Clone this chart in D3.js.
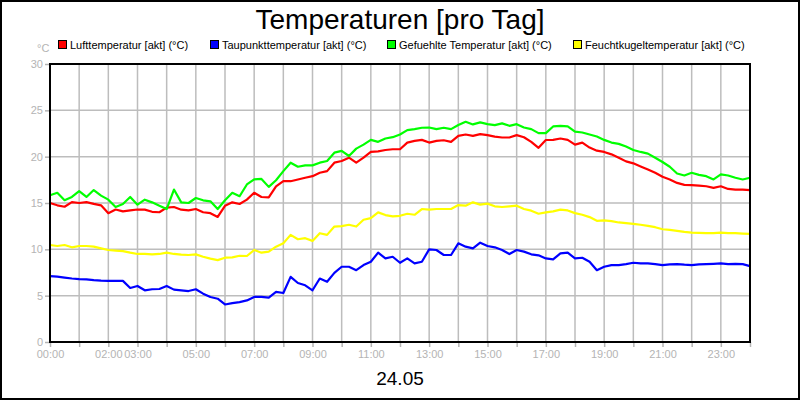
<!DOCTYPE html>
<html><head><meta charset="utf-8">
<script src="https://cdn.jsdelivr.net/npm/d3@7"></script>
<style>body{margin:0;background:#fff;} svg{display:block;font-family:"Liberation Sans",Arial,sans-serif;}</style>
</head><body>
<script>
const title = "Temperaturen [pro Tag]";
const dateLabel = "24.05";
const unitLabel = "°C";
const seriesNames = ["Lufttemperatur [akt] (°C)","Taupunkttemperatur [akt] (°C)","Gefuehlte Temperatur [akt] (°C)","Feuchtkugeltemperatur [akt] (°C)"];
const seriesColors = ["#ff0000","#0000ff","#00ff00","#ffff00"];
const yTicks = [0,5,10,15,20,25,30];
const xLabelHours = {0:"00:00",2:"02:00",3:"03:00",5:"05:00",7:"07:00",9:"09:00",11:"11:00",13:"13:00",15:"15:00",17:"17:00",19:"19:00",21:"21:00",23:"23:00"};
// samples every 15 minutes from 00:00 to 24:00
const luft = [
15.0,14.75,14.6,15.1,15.0,15.1,14.9,14.75,13.9,14.3,14.1,14.2,14.3,14.28,14.05,14.0,14.5,14.57,14.28,14.2,14.35,14.0,13.9,13.5,14.7,
15.07,14.89,15.36,16.1,15.65,15.6,16.8,17.35,17.35,17.54,17.72,17.9,18.26,18.44,19.35,19.53,19.89,19.35,19.89,20.51,20.58,20.72,20.8,20.8,
21.52,21.7,21.81,21.52,21.7,21.77,21.6,22.25,22.39,22.25,22.43,22.32,22.17,22.07,22.07,22.32,22.1,21.6,20.95,21.8,21.81,21.96,21.81,21.3,
21.52,20.98,20.65,20.51,20.25,19.89,19.49,19.28,18.95,18.62,18.26,17.83,17.54,17.17,16.96,16.92,16.88,16.81,16.63,16.81,16.52,16.45,16.45,16.38];
const taupunkt = [
7.1,7.05,6.95,6.85,6.78,6.75,6.67,6.62,6.6,6.6,6.6,5.83,6.05,5.58,5.69,5.72,6.05,5.65,5.58,5.5,5.69,5.22,4.86,4.67,4.05,
4.2,4.31,4.49,4.86,4.86,4.78,5.4,5.29,7.03,6.37,6.12,5.58,6.85,6.5,7.46,8.12,8.12,7.75,8.3,8.66,9.64,9.02,9.2,8.55,
9.02,8.48,8.66,10.0,9.93,9.39,9.39,10.65,10.29,10.11,10.72,10.36,10.22,9.93,9.49,9.93,9.75,9.46,9.35,9.02,8.91,9.57,9.64,9.02,
9.09,8.66,7.75,8.12,8.3,8.3,8.41,8.55,8.48,8.48,8.41,8.3,8.37,8.41,8.34,8.3,8.37,8.41,8.44,8.48,8.41,8.44,8.41,8.19];
const gefuehlt = [
15.83,16.1,15.3,15.65,16.27,15.65,16.4,15.8,15.36,14.57,14.9,15.65,14.82,15.36,15.07,14.71,14.35,16.45,15.07,15.0,15.54,15.29,15.18,14.35,15.3,
16.1,15.73,17.0,17.54,17.6,16.74,17.46,18.44,19.35,18.91,19.06,19.06,19.35,19.53,20.43,20.62,20.07,20.87,21.3,21.81,21.6,21.96,22.1,22.39,
22.86,22.97,23.12,23.15,22.97,23.12,22.97,23.41,23.77,23.48,23.7,23.51,23.41,23.59,23.33,23.51,23.15,22.97,22.54,22.54,23.26,23.33,23.26,22.7,
22.61,22.39,22.17,21.81,21.52,21.38,21.09,20.72,20.51,20.33,19.89,19.42,18.91,18.19,17.97,18.26,18.04,17.9,17.54,18.08,17.97,17.72,17.54,17.72];
const feuchtkugel = [
10.47,10.36,10.47,10.22,10.36,10.36,10.29,10.11,9.93,9.86,9.8,9.64,9.5,9.5,9.46,9.5,9.64,9.5,9.42,9.39,9.46,9.2,9.0,8.84,9.1,
9.13,9.31,9.28,9.93,9.64,9.75,10.29,10.65,11.56,11.09,11.2,10.91,11.74,11.56,12.46,12.5,12.65,12.46,13.19,13.37,13.99,13.7,13.55,13.62,
13.84,13.73,14.35,14.28,14.35,14.35,14.35,14.78,14.71,15.07,14.82,14.93,14.64,14.57,14.64,14.71,14.35,14.17,13.84,13.99,14.09,14.28,14.2,13.91,
13.73,13.48,13.08,13.12,13.05,12.9,12.83,12.75,12.65,12.54,12.39,12.17,12.1,12.0,11.88,11.81,11.78,11.74,11.74,11.81,11.74,11.74,11.7,11.67];
const seriesData = [luft, taupunkt, gefuehlt, feuchtkugel];

const W = 800, H = 400;
const m = {left:50, right:50, top:64, bottom:58};
const svg = d3.select("body").append("svg").attr("width",W).attr("height",H);
svg.append("rect").attr("x",0).attr("y",0).attr("width",W).attr("height",H).attr("fill","#fff");

const x = d3.scaleLinear().domain([0,24]).range([m.left, W-m.right]);
const y = d3.scaleLinear().domain([0,30]).range([H-m.bottom, m.top]);
const gridColor = "#bdbdbd";
const labelColor = "#b4b4b4";

// grid
svg.append("g").selectAll("line").data(d3.range(1,24)).join("line")
  .attr("x1",d=>x(d)).attr("x2",d=>x(d)).attr("y1",y(0)).attr("y2",y(30))
  .attr("stroke",gridColor).attr("stroke-width",1.5);
svg.append("g").selectAll("line").data(yTicks.slice(1,-1)).join("line")
  .attr("x1",x(0)).attr("x2",x(24)).attr("y1",d=>y(d)).attr("y2",d=>y(d))
  .attr("stroke",gridColor).attr("stroke-width",1.5);

// axes
const xAxis = d3.axisBottom(x).tickValues(d3.range(0,25)).tickSize(5).tickPadding(3)
  .tickFormat(d=>xLabelHours[d]||"");
const gx = svg.append("g").attr("transform",`translate(0,${y(0)})`).call(xAxis);
const yAxis = d3.axisLeft(y).tickValues(yTicks).tickSize(5).tickPadding(2).tickFormat(d3.format("d"));
const gy = svg.append("g").attr("transform",`translate(${x(0)},0)`).call(yAxis);
[gx,gy].forEach(g=>{
  g.select(".domain").remove();
  g.selectAll(".tick line").attr("stroke",labelColor).attr("stroke-width",1.5);
  g.selectAll(".tick text").attr("fill",labelColor).attr("font-size",11).attr("font-family","Liberation Sans, Arial, sans-serif");
});

// lines
const line = d3.line().x((d,i)=>x(i/4)).y(d=>y(d));
seriesData.forEach((s,k)=>{
  svg.append("path").datum(s).attr("d",line).attr("fill","none")
    .attr("stroke",seriesColors[k]).attr("stroke-width",2.2).attr("stroke-linejoin","round");
});

// frame
svg.append("rect").attr("x",x(0)).attr("y",y(30)).attr("width",x(24)-x(0)).attr("height",y(0)-y(30))
  .attr("fill","none").attr("stroke","#000").attr("stroke-width",2);

// title
svg.append("text").attr("x",W/2).attr("y",29).attr("text-anchor","middle")
  .attr("font-size",28).attr("fill","#000").text(title);
svg.append("text").attr("x",W/2).attr("y",385).attr("text-anchor","middle")
  .attr("font-size",19).attr("fill","#000").text(dateLabel);
svg.append("text").attr("x",37).attr("y",52).attr("font-size",11).attr("fill",labelColor).text(unitLabel);

// legend
const legX = [58,210,387,573];
seriesNames.forEach((n,k)=>{
  const g = svg.append("g").attr("transform",`translate(${legX[k]},40)`);
  g.append("rect").attr("x",0.5).attr("y",0.5).attr("width",8).attr("height",8)
    .attr("fill",seriesColors[k]).attr("stroke","#000").attr("stroke-width",1);
  g.append("text").attr("x",12).attr("y",8.5).attr("font-size",11).attr("fill","#000").text(n);
});

// outer border
svg.append("rect").attr("x",1).attr("y",1).attr("width",W-2).attr("height",H-2)
  .attr("fill","none").attr("stroke","#000").attr("stroke-width",2);
</script>
</body></html>
